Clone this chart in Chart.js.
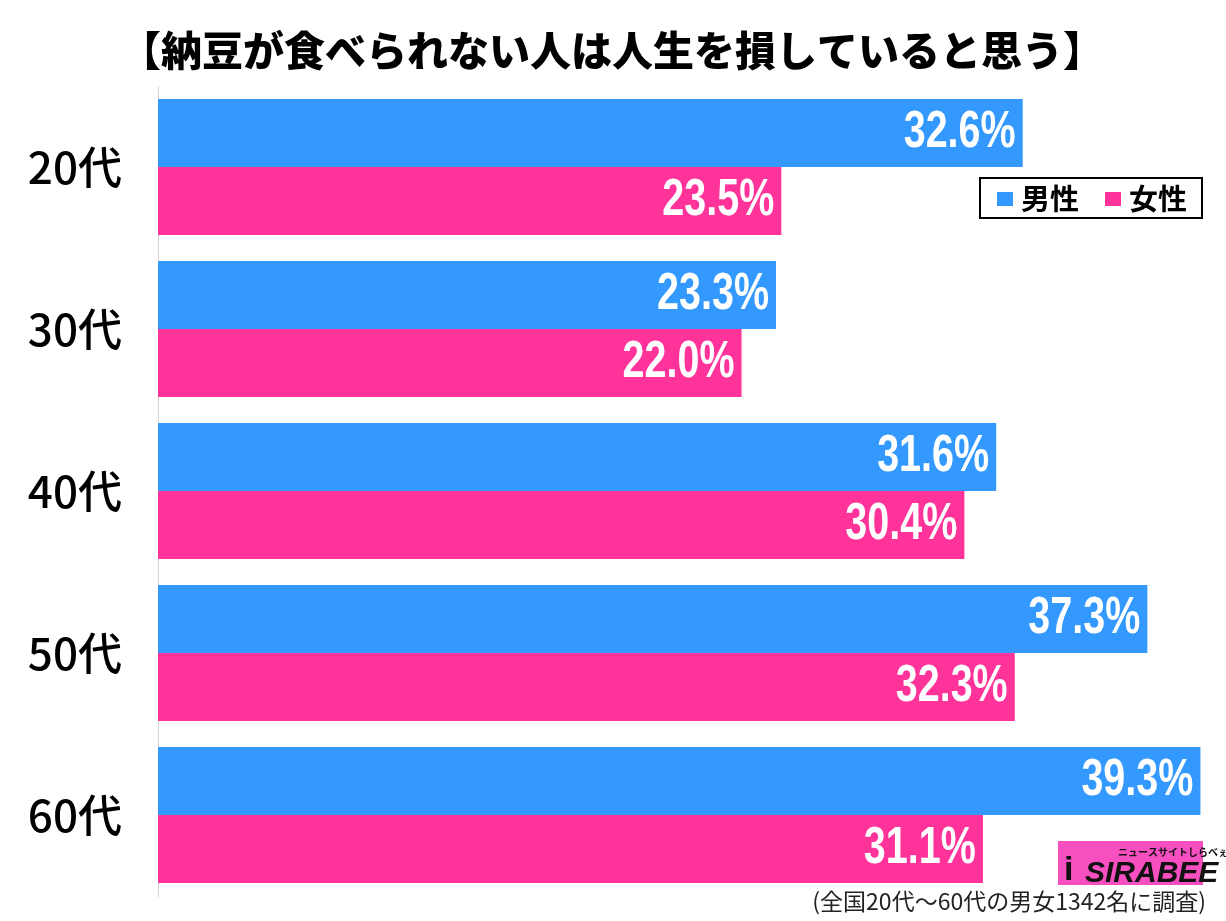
<!DOCTYPE html>
<html>
<head>
<meta charset="utf-8">
<script src="https://cdn.jsdelivr.net/npm/chart.js@4"></script>
<style>
  html, body { margin: 0; padding: 0; background: #fff; }
  #wrap { width: 1226px; height: 921px; }
</style>
</head>
<body>
<div id="wrap"><canvas id="chart" width="1226" height="921"></canvas></div>
<script>
const titleText = '【納豆が食べられない人は人生を損していると思う】';
const noteText = '(全国20代～60代の男女1342名に調査)';
const ageGroups = ['20代', '30代', '40代', '50代', '60代'];
const maleValues = [32.6, 23.3, 31.6, 37.3, 39.3];
const femaleValues = [23.5, 22.0, 30.4, 32.3, 31.1];
const seriesNames = ['男性', '女性'];

const BLUE = '#3399ff';
const PINK = '#ff3399';
const JP = '"Noto Sans CJK JP", "Noto Sans", sans-serif';

// title, legend box, footnote and logo
const decorPlugin = {
    id: 'decor',
    afterDraw(chart) {
        const ctx = chart.ctx;
        ctx.save();

        ctx.fillStyle = '#000';
        ctx.font = '900 41px ' + JP;
        ctx.textAlign = 'center';
        ctx.textBaseline = 'middle';
        ctx.fillText(titleText, 612, 50);

        // legend
        ctx.fillStyle = '#fff';
        ctx.fillRect(980, 178, 222, 40);
        ctx.strokeStyle = '#000';
        ctx.lineWidth = 2;
        ctx.strokeRect(980, 178, 222, 40);
        const colors = [BLUE, PINK];
        const xs = [997, 1105];
        ctx.font = 'bold 29px ' + JP;
        ctx.textAlign = 'left';
        for (let i = 0; i < seriesNames.length; i++) {
            ctx.fillStyle = colors[i];
            ctx.fillRect(xs[i], 192, 16, 14);
            ctx.fillStyle = '#000';
            ctx.fillText(seriesNames[i], xs[i] + 24, 199);
        }

        // logo
        ctx.fillStyle = '#f74ec0';
        ctx.fillRect(1058, 841, 145, 44);
        ctx.fillStyle = '#111';
        ctx.font = 'italic bold 30px "Liberation Sans", Arial, sans-serif';
        ctx.textAlign = 'left';
        ctx.textBaseline = 'alphabetic';
        ctx.fillText('SIRABEE', 1085, 882);
        ctx.font = 'bold 34px "Liberation Sans", Arial, sans-serif';
        ctx.fillText('i', 1064, 880);
        ctx.font = 'bold 10px ' + JP;
        ctx.fillText('ニュースサイトしらべぇ', 1118, 856);

        // footnote
        ctx.fillStyle = '#222';
        ctx.font = '23px ' + JP;
        ctx.textAlign = 'right';
        ctx.fillText(noteText, 1206, 910);

        ctx.restore();
    }
};

// white value labels inside the bar ends, narrowed like the original
const valueLabels = {
    id: 'valueLabels',
    afterDatasetsDraw(chart) {
        const ctx = chart.ctx;
        ctx.save();
        ctx.fillStyle = '#fff';
        ctx.font = 'bold 52px "Liberation Sans", Arial, sans-serif';
        ctx.textAlign = 'right';
        ctx.textBaseline = 'middle';
        chart.data.datasets.forEach((ds, di) => {
            chart.getDatasetMeta(di).data.forEach((bar, i) => {
                const txt = ds.data[i].toFixed(1) + '%';
                ctx.save();
                ctx.translate(bar.x - 7, bar.y);
                ctx.scale(0.76, 1);
                ctx.fillText(txt, 0, 0);
                ctx.restore();
            });
        });
        ctx.restore();
    }
};

new Chart(document.getElementById('chart'), {
    type: 'bar',
    data: {
        labels: ageGroups,
        datasets: [
            { label: seriesNames[0], data: maleValues, backgroundColor: BLUE },
            { label: seriesNames[1], data: femaleValues, backgroundColor: PINK }
        ]
    },
    options: {
        indexAxis: 'y',
        responsive: false,
        animation: false,
        layout: { padding: { top: 86, bottom: 25, right: 7, left: 0 } },
        datasets: {
            bar: { categoryPercentage: 0.84, barPercentage: 1.0 }
        },
        scales: {
            x: { display: false, min: 0, max: 40 },
            y: {
                afterFit(scale) {
                    scale.width = 158;
                    scale.paddingTop = 0;
                    scale.paddingBottom = 0;
                },
                grid: { display: false, drawTicks: false },
                border: { display: true, color: '#d6d6d6', width: 1 },
                ticks: {
                    color: '#000',
                    padding: 36,
                    font: { family: JP, size: 44, weight: '500' }
                }
            }
        },
        plugins: {
            legend: { display: false },
            tooltip: { enabled: false }
        }
    },
    plugins: [valueLabels, decorPlugin]
});
</script>
</body>
</html>
